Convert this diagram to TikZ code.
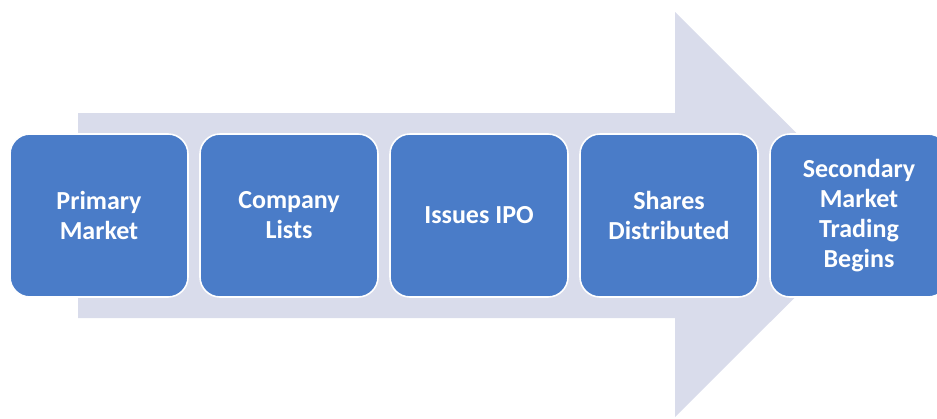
\documentclass[tikz,border=0pt]{standalone}
\usepackage{fontspec}
\setmainfont{Carlito}
\definecolor{arrowfill}{HTML}{D9DCEB}
\definecolor{stepfill}{HTML}{4A7CC8}
\begin{document}
\begin{tikzpicture}[x=1pt,y=-1pt,
  stepbox/.style={rectangle, rounded corners=20pt, fill=stepfill, draw=white,
    line width=1.6pt, minimum width=178pt, minimum height=163pt,
    text=white, font=\bfseries\fontsize{26}{30}\selectfont, align=center,
    inner sep=0pt}]
  \useasboundingbox (0,0) rectangle (937,418);
  \clip (0,0) rectangle (937,418);
  % background block arrow
  \fill[arrowfill] (78,113) -- (675,113) -- (675,12) -- (878,214.5)
    -- (675,417) -- (675,318) -- (78,318) -- cycle;
  % process steps
  \node[stepbox] (s1) at (99,215.5) {Primary\\Market};
  \node[stepbox] (s2) at (289,215.5) {Company\\Lists};
  \node[stepbox] (s3) at (479,215.5) {Issues IPO};
  \node[stepbox] (s4) at (669,215.5) {Shares\\Distributed};
  \node[stepbox] (s5) at (859,215.5) {Secondary\\Market\\Trading\\Begins};
\end{tikzpicture}
\end{document}
